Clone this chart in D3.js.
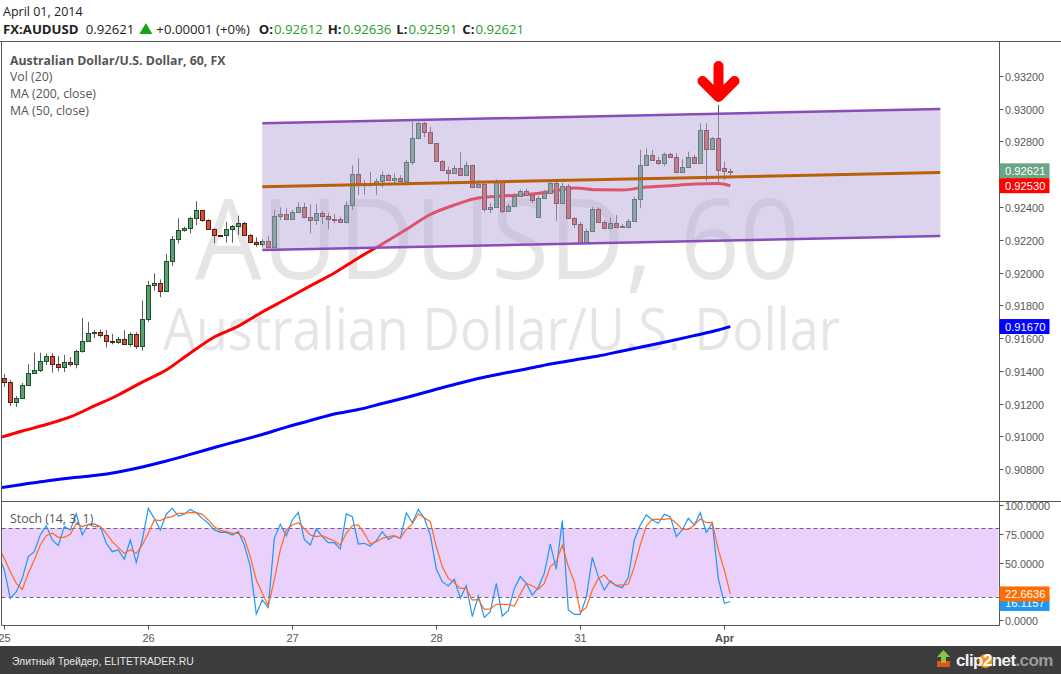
<!DOCTYPE html>
<html><head><meta charset="utf-8">
<script src="https://cdn.jsdelivr.net/npm/d3@7"></script>
<style>body{margin:0;background:#fff;}svg{display:block;}</style>
</head><body><svg id="c" width="1061" height="674"></svg>
<script>
// ---------- DATA ----------
const dayLabels = ["25","26","27","28","31","Apr"];
const dayIdx = [0,24,48,72,96,120];
const priceTicks = [0.932,0.930,0.928,0.926,0.924,0.922,0.920,0.918,0.916,0.914,0.912,0.910,0.908];
const stochTicks = [0,25,50,75,100];

const openP = [0.91354,0.91329,0.91207,0.91232,0.91311,0.91384,0.91405,0.91458,0.91490,0.91439,
0.91421,0.91453,0.91439,0.91521,0.91582,0.91629,0.91635,0.91620,0.91583,0.91577,
0.91592,0.91561,0.91624,0.91553,0.91714,0.91922,0.91934,0.91889,0.92068,0.92203,
0.92260,0.92272,0.92331,0.92380,0.92319,0.92264,0.92230,0.92227,0.92264,0.92282,
0.92300,0.92227,0.92184,0.92172,0.92192,0.92154,0.92342,0.92356,0.92325,0.92368,
0.92400,0.92336,0.92318,0.92362,0.92342,0.92327,0.92327,0.92307,0.92410,0.92602,
0.92547,0.92545,0.92545,0.92559,0.92594,0.92563,0.92575,0.92561,0.92673,0.92820,
0.92911,0.92860,0.92789,0.92683,0.92628,0.92609,0.92636,0.92594,0.92656,0.92520,
0.92540,0.92386,0.92402,0.92554,0.92374,0.92406,0.92469,0.92500,0.92473,0.92341,
0.92453,0.92484,0.92545,0.92426,0.92528,0.92331,0.92294,0.92182,0.92253,0.92386,
0.92311,0.92270,0.92300,0.92286,0.92276,0.92314,0.92447,0.92656,0.92716,0.92685,
0.92667,0.92724,0.92707,0.92612,0.92642,0.92704,0.92667,0.92870,0.92752,0.92820,
0.92640,0.92612];
const closeP = [0.91329,0.91207,0.91232,0.91311,0.91384,0.91405,0.91458,0.91490,0.91439,0.91421,
0.91453,0.91439,0.91521,0.91582,0.91629,0.91635,0.91620,0.91583,0.91577,0.91592,
0.91561,0.91624,0.91553,0.91714,0.91922,0.91934,0.91889,0.92068,0.92203,0.92260,
0.92272,0.92331,0.92380,0.92319,0.92264,0.92227,0.92224,0.92264,0.92282,0.92300,
0.92227,0.92184,0.92172,0.92192,0.92154,0.92342,0.92356,0.92325,0.92368,0.92400,
0.92336,0.92318,0.92362,0.92342,0.92325,0.92325,0.92307,0.92410,0.92602,0.92545,
0.92541,0.92545,0.92559,0.92594,0.92563,0.92575,0.92561,0.92673,0.92820,0.92911,
0.92860,0.92789,0.92683,0.92628,0.92609,0.92636,0.92594,0.92656,0.92520,0.92540,
0.92386,0.92402,0.92554,0.92374,0.92406,0.92469,0.92500,0.92473,0.92443,0.92453,
0.92484,0.92548,0.92426,0.92528,0.92331,0.92294,0.92182,0.92253,0.92386,0.92311,
0.92270,0.92300,0.92280,0.92276,0.92314,0.92447,0.92656,0.92716,0.92685,0.92667,
0.92724,0.92707,0.92612,0.92642,0.92704,0.92667,0.92870,0.92752,0.92820,0.92625,
0.92620,0.92621];
const highP = [0.91380,0.91343,0.91246,0.91325,0.91441,0.91510,0.91510,0.91504,0.91508,0.91490,
0.91496,0.91484,0.91527,0.91722,0.91698,0.91649,0.91651,0.91649,0.91626,0.91608,
0.91647,0.91635,0.91635,0.91828,0.91948,0.91995,0.91958,0.92113,0.92223,0.92331,
0.92280,0.92341,0.92435,0.92382,0.92325,0.92270,0.92230,0.92310,0.92290,0.92347,
0.92310,0.92235,0.92215,0.92203,0.92223,0.92382,0.92398,0.92392,0.92382,0.92429,
0.92426,0.92416,0.92416,0.92376,0.92365,0.92357,0.92341,0.92435,0.92655,0.92697,
0.92565,0.92614,0.92575,0.92616,0.92602,0.92606,0.92595,0.92687,0.92921,0.92921,
0.92921,0.92890,0.92792,0.92686,0.92646,0.92656,0.92734,0.92677,0.92658,0.92565,
0.92554,0.92423,0.92569,0.92556,0.92418,0.92485,0.92508,0.92510,0.92479,0.92467,
0.92504,0.92565,0.92569,0.92547,0.92540,0.92339,0.92308,0.92266,0.92400,0.92397,
0.92321,0.92337,0.92351,0.92296,0.92327,0.92461,0.92748,0.92758,0.92748,0.92707,
0.92732,0.92732,0.92728,0.92691,0.92738,0.92718,0.92911,0.92911,0.92827,0.93023,
0.92678,0.92636];
const lowP = [0.91301,0.91185,0.91179,0.91228,0.91308,0.91380,0.91392,0.91435,0.91388,0.91397,
0.91392,0.91425,0.91415,0.91510,0.91578,0.91600,0.91604,0.91541,0.91561,0.91565,
0.91559,0.91547,0.91533,0.91522,0.91700,0.91889,0.91849,0.91885,0.92040,0.92178,
0.92249,0.92239,0.92288,0.92310,0.92260,0.92178,0.92222,0.92182,0.92182,0.92229,
0.92223,0.92178,0.92158,0.92154,0.92148,0.92148,0.92321,0.92321,0.92321,0.92362,
0.92331,0.92239,0.92290,0.92294,0.92264,0.92300,0.92304,0.92300,0.92382,0.92473,
0.92473,0.92524,0.92473,0.92518,0.92559,0.92545,0.92559,0.92559,0.92658,0.92815,
0.92826,0.92785,0.92680,0.92625,0.92554,0.92607,0.92592,0.92592,0.92518,0.92518,
0.92371,0.92362,0.92399,0.92362,0.92369,0.92404,0.92467,0.92467,0.92424,0.92333,
0.92449,0.92492,0.92316,0.92418,0.92327,0.92272,0.92174,0.92174,0.92247,0.92302,
0.92266,0.92266,0.92275,0.92272,0.92272,0.92308,0.92392,0.92650,0.92681,0.92656,
0.92650,0.92702,0.92608,0.92608,0.92638,0.92663,0.92663,0.92559,0.92748,0.92553,
0.92565,0.92591];

const maIdx = [-1,3,7,11,15,19,23,27,31,35,39,43,47,51,55,59,63,67,71,75,79,83,87,91,95,99,103,107,111,115,119,121];
const ma50 = [0.90989,0.91032,0.91072,0.91118,0.91185,0.91252,0.91331,0.91405,0.91508,0.91606,
0.91673,0.91759,0.91838,0.91918,0.91997,0.92089,0.92174,0.92263,0.92354,0.92412,
0.92455,0.92467,0.92476,0.92493,0.92516,0.92505,0.92504,0.92522,0.92530,0.92540,0.92543,0.92530];
const ma200 = [0.90684,0.90705,0.90727,0.90745,0.90760,0.90782,0.90812,0.90849,0.90889,0.90931,
0.90971,0.91011,0.91056,0.91096,0.91136,0.91163,0.91200,0.91237,0.91276,0.91316,
0.91353,0.91383,0.91411,0.91441,0.91466,0.91490,0.91521,0.91551,0.91582,0.91615,0.91649,0.91670];

const stochStart = -1;
const stochK = [56.5,43.5,18.8,24.6,36.2,55.1,59.4,73.9,82.0,69.6,64.6,
81.2,78.3,92.2,73.9,83.2,83.5,81.2,66.7,59.4,60.9,
52.8,69.6,50.1,69.6,97.1,88.4,78.3,92.2,97.1,90.4,
91.9,96.2,93.3,88.4,84.1,78.3,76.2,76.2,73.9,76.8,
65.2,46.4,5.2,17.4,11.0,71.0,83.2,73.0,87.0,93.6,
70.1,65.2,79.1,72.5,67.2,67.2,61.7,92.2,89.9,66.1,
66.7,64.3,69.0,76.8,70.1,73.0,71.0,93.3,84.6,96.2,
88.4,73.9,44.3,33.3,29.6,35.4,18.8,29.9,2.9,20.9,
2.3,7.2,31.9,3.5,8.1,27.5,37.7,31.9,21.7,28.4,
40.6,66.1,44.1,86.4,8.7,4.9,4.9,19.7,54.5,37.7,
26.1,34.2,29.6,28.1,37.1,69.6,82.6,91.3,87.0,84.1,
91.9,89.9,72.5,78.3,88.4,82.6,93.3,76.2,84.1,36.2,
14.5,16.1157];
const stochD = [63.8,53.6,42.0,31.9,26.7,40.6,52.2,65.2,73.3,75.4,71.9,
71.9,74.5,84.1,81.2,83.2,81.2,81.2,75.4,68.1,62.9,
58.0,60.9,58.0,65.2,75.4,87.0,86.4,89.0,89.9,92.8,
92.8,93.3,93.3,91.9,87.0,81.2,77.7,76.8,75.4,75.4,
71.0,55.1,34.8,23.2,12.5,34.8,60.9,78.3,82.6,84.6,
79.7,73.9,72.5,73.3,71.0,68.7,65.2,75.4,82.0,82.6,
75.4,66.1,68.1,71.0,72.5,73.3,71.0,78.8,83.5,92.2,
89.0,85.5,63.8,46.4,36.2,32.5,27.5,27.5,17.4,18.0,
9.3,9.6,13.6,13.6,13.6,12.2,22.6,31.9,29.6,26.7,
31.9,46.4,50.7,65.2,46.4,33.3,6.7,11.0,26.1,36.2,
39.1,32.8,30.4,30.4,31.3,46.4,65.2,81.7,87.5,87.5,
87.5,88.4,84.1,78.8,78.8,82.6,87.8,84.6,84.9,60.9,
43.5,22.6636];

const channelIdx = [43,156];
const channelUpper = [0.92911,0.92998];
const channelLower = [0.92137,0.92223];
const arrowBar = 119;

const lastPrice = 0.92621, lastMa50 = 0.92530, lastMa200 = 0.91670, lastK = 16.1157, lastD = 22.6636;
const barOHLC = [["O:",0.92612],["H:",0.92636],["L:",0.92591],["C:",0.92621]];

// ---------- LAYOUT ----------
const svg = d3.select("#c");
const L = 1.5, R = 999.5, T = 41.5, MB = 501.5, SB = 625.5;
const xS = d3.scaleLinear().domain([0,120]).range([4.3,724.3]);
const yS = d3.scaleLinear().domain([0.908,0.932]).range([469,76]);
const sS = d3.scaleLinear().domain([0,100]).range([620,505]);
const uiFont = "'Open Sans', sans-serif";
const axFont = "'Liberation Sans', Arial, sans-serif";
const fmt5 = d3.format(".5f"), fmt4 = d3.format(".4f");

const defs = svg.append("defs");
defs.append("clipPath").attr("id","mainClip").append("rect").attr("x",L+0.5).attr("y",T+0.5).attr("width",R-L-1).attr("height",MB-T-1);
defs.append("clipPath").attr("id","stochClip").append("rect").attr("x",L+0.5).attr("y",MB+0.5).attr("width",R-L-1).attr("height",SB-MB-1);

svg.append("rect").attr("width",1061).attr("height",674).attr("fill","#fff");

// header
svg.append("text").attr("x",3).attr("y",16).attr("font-family",uiFont).attr("font-size",12.5).attr("fill","#222").text("April 01, 2014");
let hx = 3;
function hpart(txt, opts, gapAfter){
  const t = svg.append("text").attr("x",hx).attr("y",33.5).attr("font-family",uiFont).attr("font-size",13.2)
    .attr("fill",opts.fill||"#222").attr("font-weight",opts.bold?"bold":"normal").text(txt);
  hx += t.node().getComputedTextLength() + gapAfter;
}
const grn = "#1f9e1f";
hpart("FX:AUDUSD",{bold:true},7);
hpart(fmt5(lastPrice),{},5);
svg.append("path").attr("d",`M${hx+6.5},23L${hx+13},34L${hx},34Z`).attr("fill","#19a319");
hx += 17;
hpart("+0.00001 (+0%)",{},9);
barOHLC.forEach(p=>{ hpart(p[0],{bold:true},1); hpart(fmt5(p[1]),{fill:grn},5); });

// main panel
const main = svg.append("g").attr("clip-path","url(#mainClip)");
main.append("text").attr("x",497.5).attr("y",279).attr("text-anchor","middle").attr("font-family",uiFont)
  .attr("font-size",112).attr("fill","#000").attr("fill-opacity",0.1)
  .attr("textLength",605).attr("lengthAdjust","spacingAndGlyphs").text("AUDUSD, 60");
main.append("text").attr("x",501.5).attr("y",350).attr("text-anchor","middle").attr("font-family",uiFont)
  .attr("font-size",58).attr("fill","#000").attr("fill-opacity",0.1)
  .attr("textLength",677).attr("lengthAdjust","spacingAndGlyphs").text("Australian Dollar/U.S. Dollar");

const maLine = d3.line().x(d=>xS(d[0])).y(d=>yS(d[1])).curve(d3.curveMonotoneX);
main.append("path").attr("d",maLine(maIdx.map((v,k)=>[v,ma200[k]]))).attr("fill","none").attr("stroke","#0000ff").attr("stroke-width",3);
main.append("path").attr("d",maLine(maIdx.map((v,k)=>[v,ma50[k]]))).attr("fill","none").attr("stroke","#ff0000").attr("stroke-width",3);

const candles = openP.map((o,i)=>({i,o,h:highP[i],l:lowP[i],c:closeP[i]}));
const cg = main.append("g");
candles.forEach(d=>{
  const px = Math.floor(xS(d.i));
  const up = d.c >= d.o;
  cg.append("line").attr("x1",px+0.5).attr("x2",px+0.5).attr("y1",yS(d.h)).attr("y2",yS(d.l)).attr("stroke","#5e5e5e").attr("stroke-width",1);
  const yt = Math.round(yS(Math.max(d.o,d.c))), yb = Math.round(yS(Math.min(d.o,d.c)));
  cg.append("rect").attr("x",px-1.5).attr("y",yt+0.5).attr("width",4).attr("height",Math.max(yb-yt,1))
    .attr("fill",up?"#5c9f72":"#d3513a").attr("stroke",up?"#1f4e2d":"#5e1a10").attr("stroke-width",1);
});

const cx0 = xS(channelIdx[0]), cx1 = xS(channelIdx[1]);
main.append("path").attr("d",`M${cx0},${yS(channelUpper[0])}L${cx1},${yS(channelUpper[1])}L${cx1},${yS(channelLower[1])}L${cx0},${yS(channelLower[0])}Z`)
  .attr("fill","rgb(185,170,217)").attr("fill-opacity",0.5);
[channelUpper,channelLower].forEach(a=>{
  main.append("line").attr("x1",cx0).attr("x2",cx1).attr("y1",yS(a[0])).attr("y2",yS(a[1]))
    .attr("stroke","#8a4cb8").attr("stroke-width",2.5);
});
const mid0 = (channelUpper[0]+channelLower[0])/2, mid1 = (channelUpper[1]+channelLower[1])/2;
main.append("line").attr("x1",cx0).attr("x2",cx1).attr("y1",yS(mid0)).attr("y2",yS(mid1))
  .attr("stroke","#b8600a").attr("stroke-width",3);

const ax = Math.floor(xS(arrowBar))+0.5, tip = yS(highP[arrowBar]) - 3;
main.append("path").attr("d",`M${ax},${tip-36}L${ax},${tip-8}M${ax-16},${tip-21}L${ax},${tip-5}L${ax+16},${tip-21}`)
  .attr("fill","none").attr("stroke","#ff0000").attr("stroke-width",10).attr("stroke-linecap","round").attr("stroke-linejoin","round");

const lg = [["Australian Dollar/U.S. Dollar, 60, FX",true],["Vol (20)",false],["MA (200, close)",false],["MA (50, close)",false]];
lg.forEach((t,k)=>{
  svg.append("text").attr("x",10).attr("y",64.5+k*16.7).attr("font-family",uiFont).attr("font-size",12.3)
    .attr("font-weight",t[1]?"bold":"normal").attr("fill","#555").text(t[0]);
});

// stoch panel
const st = svg.append("g").attr("clip-path","url(#stochClip)");
st.append("rect").attr("x",L).attr("y",sS(80)).attr("width",R-L-1).attr("height",sS(20)-sS(80)).attr("fill","#e9d1fc");
[80,20].forEach(v=>{
  st.append("line").attr("x1",L).attr("x2",R).attr("y1",Math.round(sS(v))+0.5).attr("y2",Math.round(sS(v))+0.5)
    .attr("stroke","#6f6478").attr("stroke-width",1).attr("stroke-dasharray","4,3");
});
const sLine = d3.line().x((d,k)=>xS(k+stochStart)).y(d=>sS(d));
st.append("path").attr("d",sLine(stochK)).attr("fill","none").attr("stroke","#2196f3").attr("stroke-width",1.2);
st.append("path").attr("d",sLine(stochD)).attr("fill","none").attr("stroke","#ff6a1f").attr("stroke-width",1.2);
svg.append("text").attr("x",10).attr("y",522.5).attr("font-family",uiFont).attr("font-size",12.3).attr("fill","#555").text("Stoch (14, 3, 1)");

// frame
const fr = svg.append("g").attr("stroke","#555").attr("stroke-width",1).attr("fill","none");
fr.append("line").attr("x1",0).attr("x2",1061).attr("y1",T).attr("y2",T);
fr.append("line").attr("x1",L).attr("x2",L).attr("y1",T).attr("y2",SB);
fr.append("line").attr("x1",R).attr("x2",R).attr("y1",T).attr("y2",SB);
fr.append("line").attr("x1",L).attr("x2",1061).attr("y1",MB).attr("y2",MB);
fr.append("line").attr("x1",L).attr("x2",R).attr("y1",SB).attr("y2",SB);

// price axis
priceTicks.forEach(v=>{
  const y = Math.round(yS(v))+0.5;
  svg.append("line").attr("x1",R).attr("x2",R+4).attr("y1",y).attr("y2",y).attr("stroke","#555");
  svg.append("text").attr("x",1005).attr("y",y+4).attr("font-family",axFont).attr("font-size",10.8).attr("fill","#555").text(fmt5(v));
});
stochTicks.forEach(v=>{
  const y = Math.round(sS(v))+0.5;
  svg.append("line").attr("x1",R).attr("x2",R+4).attr("y1",y).attr("y2",y).attr("stroke","#555");
  svg.append("text").attr("x",1005).attr("y",y+4).attr("font-family",axFont).attr("font-size",10.8).attr("fill","#555").text(fmt4(v));
});
function tag(y, txt, col){
  svg.append("rect").attr("x",R).attr("y",y-7.5).attr("width",50).attr("height",15).attr("fill",col);
  svg.append("text").attr("x",1005).attr("y",y+4).attr("font-family",axFont).attr("font-size",11.2).attr("fill","#fff").text(txt);
}
tag(yS(lastPrice), fmt5(lastPrice), "#6ba584");
tag(yS(lastMa50), fmt5(lastMa50), "#ff0000");
tag(yS(lastMa200), fmt5(lastMa200), "#0000ff");
tag(sS(lastK)+2, fmt4(lastK), "#2196f3");
tag(sS(lastD), fmt4(lastD), "#ff6d00");

// time axis
dayIdx.forEach((v,k)=>{
  const x = Math.floor(xS(v))+0.5;
  svg.append("line").attr("x1",x).attr("x2",x).attr("y1",SB).attr("y2",SB+4).attr("stroke","#555");
  svg.append("text").attr("x",x).attr("y",642).attr("text-anchor","middle").attr("font-family",axFont).attr("font-size",11)
    .attr("font-weight",dayLabels[k]==="Apr"?"bold":"normal").attr("fill","#555").text(dayLabels[k]);
});

// footer
svg.append("rect").attr("x",0).attr("y",646).attr("width",1061).attr("height",28).attr("fill","#3d3d3d");
svg.append("text").attr("x",12).attr("y",665).attr("font-family",axFont).attr("font-size",10.4).attr("fill","#e6e6e6").text("Элитный Трейдер, ELITETRADER.RU");
const lgG = svg.append("g");
lgG.append("rect").attr("x",937).attr("y",661).attr("width",13).attr("height",6).attr("fill","#e8501c");
lgG.append("path").attr("d","M943.5,650L950,657L946,657L946,663L941,663L941,657L937,657Z").attr("fill","#8cc63f");
lgG.append("circle").attr("cx",985.5).attr("cy",661).attr("r",7).attr("fill","#f7931e");
const lt = lgG.append("text").attr("x",956).attr("y",666).attr("font-family",axFont).attr("font-size",17).attr("font-weight","bold").attr("letter-spacing",-0.6);
lt.append("tspan").attr("fill","#f2f2f2").text("clip");
lt.append("tspan").attr("fill","#fff").text("2");
lt.append("tspan").attr("fill","#f2f2f2").text("net");
lt.append("tspan").attr("fill","#9a9a9a").text(".com");
</script></body></html>
